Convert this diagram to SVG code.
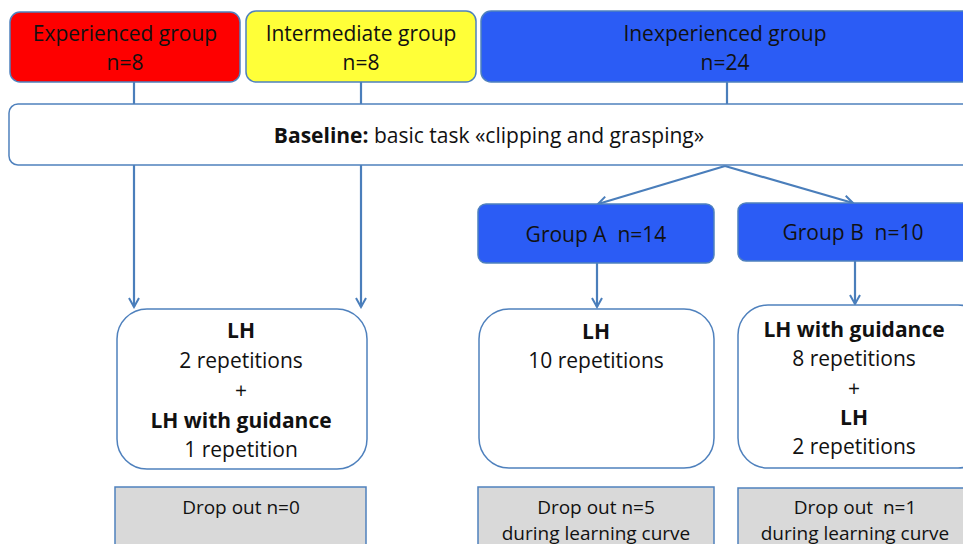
<svg xmlns="http://www.w3.org/2000/svg" width="963" height="544" viewBox="0 0 963 544">
  <style>
    .t { font-family: "Open Sans", "Liberation Sans", sans-serif; fill: #111; text-anchor: middle; white-space: pre; }
    .m { font-size: 21px; }
    .s { font-size: 19px; }
    .b { font-weight: bold; }
    .box { stroke: #4f81bd; stroke-width: 1.5; }
    .conn { stroke: #4a7ebb; stroke-width: 2.2; fill: none; }
  </style>
  <defs>
    <marker id="arr" viewBox="0 0 12 12" refX="10" refY="6" markerWidth="12" markerHeight="12" markerUnits="userSpaceOnUse" orient="auto">
      <path d="M1,1 L10,6 L1,11" fill="none" stroke="#4a7ebb" stroke-width="2"/>
    </marker>
  </defs>
  <rect width="963" height="544" fill="#ffffff"/>

  <!-- connectors -->
  <g id="connectors">
    <line class="conn" x1="134" y1="82" x2="134" y2="104"/>
    <line class="conn" x1="361" y1="82" x2="361" y2="104"/>
    <line class="conn" x1="727" y1="82" x2="727" y2="104"/>
    <line class="conn" x1="134" y1="165" x2="134" y2="307" marker-end="url(#arr)"/>
    <line class="conn" x1="361" y1="165" x2="361" y2="307" marker-end="url(#arr)"/>
    <line class="conn" x1="725" y1="166" x2="598" y2="204" marker-end="url(#arr)"/>
    <line class="conn" x1="725" y1="166" x2="853" y2="203" marker-end="url(#arr)"/>
    <line class="conn" x1="597" y1="263" x2="597" y2="307" marker-end="url(#arr)"/>
    <line class="conn" x1="855" y1="261" x2="855" y2="304" marker-end="url(#arr)"/>
  </g>

  <g id="experienced">
    <rect class="box" x="10" y="12" width="230" height="70" rx="10" fill="#fe0000"/>
    <text class="t m" x="125" y="41">Experienced group</text>
    <text class="t m" x="125" y="70">n=8</text>
  </g>
  <g id="intermediate">
    <rect class="box" x="246" y="11" width="230" height="71" rx="10" fill="#ffff38"/>
    <text class="t m" x="361" y="41">Intermediate group</text>
    <text class="t m" x="361" y="70">n=8</text>
  </g>
  <g id="inexperienced">
    <rect class="box" x="481" y="11" width="500" height="71" rx="10" fill="#2b5cf5"/>
    <text class="t m" x="725" y="41">Inexperienced group</text>
    <text class="t m" x="725" y="70">n=24</text>
  </g>

  <g id="baseline">
    <rect class="box" x="9" y="104" width="980" height="61" rx="9" fill="#ffffff"/>
    <text class="t m" x="489" y="143"><tspan class="b">Baseline:</tspan> basic task «clipping and grasping»</text>
  </g>

  <g id="groupA">
    <rect class="box" x="478" y="204" width="236" height="59" rx="8" fill="#2b5cf5"/>
    <text class="t m" x="596" y="242">Group A  n=14</text>
  </g>
  <g id="groupB">
    <rect class="box" x="738" y="203" width="250" height="58" rx="8" fill="#2b5cf5"/>
    <text class="t m" x="853" y="240">Group B  n=10</text>
  </g>

  <g id="protocolExp">
    <rect class="box" x="117" y="309" width="250" height="160" rx="30" fill="#ffffff"/>
    <text class="t m b" x="241" y="338">LH</text>
    <text class="t m" x="241" y="368">2 repetitions</text>
    <text class="t m" x="241" y="398">+</text>
    <text class="t m b" x="241" y="428">LH with guidance</text>
    <text class="t m" x="241" y="457">1 repetition</text>
  </g>
  <g id="protocolA">
    <rect class="box" x="479" y="309" width="235" height="159" rx="30" fill="#ffffff"/>
    <text class="t m b" x="596" y="339">LH</text>
    <text class="t m" x="596" y="368">10 repetitions</text>
  </g>
  <g id="protocolB">
    <rect class="box" x="738" y="305" width="250" height="163" rx="30" fill="#ffffff"/>
    <text class="t m b" x="854" y="337">LH with guidance</text>
    <text class="t m" x="854" y="366">8 repetitions</text>
    <text class="t m" x="854" y="396">+</text>
    <text class="t m b" x="854" y="425">LH</text>
    <text class="t m" x="854" y="454">2 repetitions</text>
  </g>

  <g id="dropExp">
    <rect class="box" x="115" y="487" width="251" height="70" fill="#d9d9d9"/>
    <text class="t s" x="241" y="514">Drop out n=0</text>
  </g>
  <g id="dropA">
    <rect class="box" x="478" y="487" width="236" height="70" fill="#d9d9d9"/>
    <text class="t s" x="596" y="514">Drop out n=5</text>
    <text class="t s" x="596" y="540">during learning curve</text>
  </g>
  <g id="dropB">
    <rect class="box" x="738" y="488" width="250" height="70" fill="#d9d9d9"/>
    <text class="t s" x="855" y="514">Drop out  n=1</text>
    <text class="t s" x="855" y="540">during learning curve</text>
  </g>
</svg>
